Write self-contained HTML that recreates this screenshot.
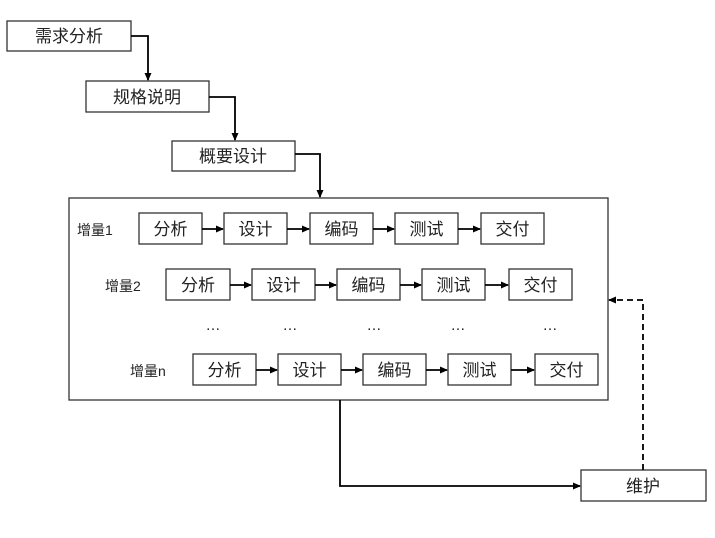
<!DOCTYPE html>
<html><head><meta charset="utf-8"><style>
body{margin:0;background:#fff}
text{font-family:"Liberation Sans","Noto Sans CJK SC",sans-serif;fill:#222}
</style></head><body>
<svg width="715" height="533" xmlns="http://www.w3.org/2000/svg">
<defs><marker id="a" markerWidth="8" markerHeight="8" refX="7" refY="4" orient="auto" markerUnits="userSpaceOnUse"><path d="M0,0.5 L8,4 L0,7.5z" fill="#000"/></marker></defs>
<g fill="#fff" stroke="#333" stroke-width="1.3">
<rect x="7" y="21" width="124" height="30"/>
<rect x="86" y="81" width="123" height="31"/>
<rect x="172" y="141" width="123" height="30"/>
<rect x="69" y="198" width="539" height="202"/>
<rect x="581" y="470" width="125" height="31"/>
<rect x="139" y="213" width="63" height="31"/><rect x="224" y="213" width="63" height="31"/><rect x="310" y="213" width="63" height="31"/><rect x="395" y="213" width="63" height="31"/><rect x="481" y="213" width="63" height="31"/>
<rect x="166" y="269" width="64" height="31"/><rect x="252" y="269" width="63" height="31"/><rect x="337" y="269" width="63" height="31"/><rect x="422" y="269" width="63" height="31"/><rect x="509" y="269" width="63" height="31"/>
<rect x="193" y="354" width="63" height="31"/><rect x="278" y="354" width="63" height="31"/><rect x="363" y="354" width="63" height="31"/><rect x="448" y="354" width="63" height="31"/><rect x="535" y="354" width="63" height="31"/>
</g>
<g font-size="17" text-anchor="middle">
<text x="69" y="42">需求分析</text>
<text x="147" y="103">规格说明</text>
<text x="233" y="162">概要设计</text>
<text x="643" y="492">维护</text>
<text x="170.5" y="235">分析</text><text x="255.5" y="235">设计</text><text x="341.5" y="235">编码</text><text x="426.5" y="235">测试</text><text x="512.5" y="235">交付</text>
<text x="198" y="291">分析</text><text x="283.5" y="291">设计</text><text x="368.5" y="291">编码</text><text x="453.5" y="291">测试</text><text x="540.5" y="291">交付</text>
<text x="224.5" y="376">分析</text><text x="309.5" y="376">设计</text><text x="394.5" y="376">编码</text><text x="479.5" y="376">测试</text><text x="566.5" y="376">交付</text>
</g>
<g fill="none" stroke="#000" stroke-width="1.8">
<path d="M131,36 H148 V80" marker-end="url(#a)"/>
<path d="M209,97 H235 V140" marker-end="url(#a)"/>
<path d="M295,154 H320 V197" marker-end="url(#a)"/>
<path d="M340,400 V486 H580" marker-end="url(#a)"/>
<path d="M643,470 V300 H609" stroke-dasharray="6,4" marker-end="url(#a)"/>
<path d="M202,229 H223" marker-end="url(#a)"/><path d="M287,229 H309" marker-end="url(#a)"/><path d="M373,229 H394" marker-end="url(#a)"/><path d="M458,229 H480" marker-end="url(#a)"/>
<path d="M230,285 H251" marker-end="url(#a)"/><path d="M315,285 H336" marker-end="url(#a)"/><path d="M400,285 H421" marker-end="url(#a)"/><path d="M485,285 H508" marker-end="url(#a)"/>
<path d="M256,370 H277" marker-end="url(#a)"/><path d="M341,370 H362" marker-end="url(#a)"/><path d="M426,370 H447" marker-end="url(#a)"/><path d="M511,370 H534" marker-end="url(#a)"/>
</g>
<g font-size="14">
<text x="77" y="235">增量1</text>
<text x="105" y="291">增量2</text>
<text x="130" y="376">增量n</text>
</g>
<g font-size="15" fill="#333" text-anchor="middle">
<text x="213" y="330">…</text><text x="290" y="330">…</text><text x="374" y="330">…</text><text x="458" y="330">…</text><text x="550" y="330">…</text>
</g>
</svg>
</body></html>
